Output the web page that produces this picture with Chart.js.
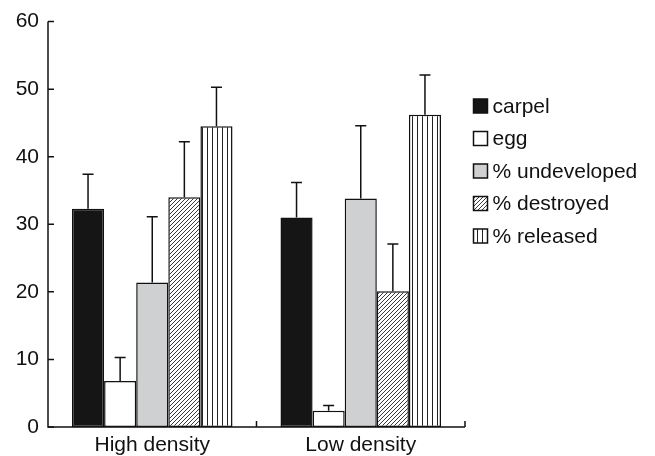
<!DOCTYPE html>
<html>
<head>
<meta charset="utf-8">
<script src="https://cdn.jsdelivr.net/npm/chart.js@4.4.0/dist/chart.umd.min.js"></script>
<style>
  html, body { margin: 0; padding: 0; background: #fff; }
  #wrap { width: 655px; height: 456px; }
</style>
</head>
<body>
<div id="wrap"><canvas id="chart" width="655" height="456"></canvas></div>
<script>
// ---- data ----
const categories = ["High density", "Low density"];
const seriesNames = ["carpel", "egg", "% undeveloped", "% destroyed", "% released"];
const carpel      = [32.3, 31.0];
const egg         = [6.8, 2.4];
const undeveloped = [21.4, 33.8];
const destroyed   = [34.0, 20.1];
const released    = [44.5, 46.2];
// upper error bar lengths
const carpelErr      = [5.1, 5.2];
const eggErr         = [3.5, 0.8];
const undevelopedErr = [9.7, 10.8];
const destroyedErr   = [8.2, 7.0];
const releasedErr    = [5.8, 5.9];
const yTicks = [0, 10, 20, 30, 40, 50, 60];

const FONT = '"Liberation Sans", Arial, sans-serif';

// ---- fill patterns ----
function diagPattern() {
  const c = document.createElement("canvas");
  c.width = 4; c.height = 4;
  const g = c.getContext("2d");
  g.fillStyle = "#fff"; g.fillRect(0, 0, 4, 4);
  g.strokeStyle = "#222"; g.lineWidth = 0.9;
  g.beginPath();
  g.moveTo(0, 4); g.lineTo(4, 0);
  g.moveTo(-1, 1); g.lineTo(1, -1);
  g.moveTo(3, 5); g.lineTo(5, 3);
  g.stroke();
  return g.createPattern(c, "repeat");
}
function vertPattern() {
  const c = document.createElement("canvas");
  c.width = 5; c.height = 4;
  const g = c.getContext("2d");
  g.fillStyle = "#fff"; g.fillRect(0, 0, 5, 4);
  g.fillStyle = "#222"; g.fillRect(2, 0, 1, 4);
  return g.createPattern(c, "repeat");
}

const fills = ["#151515", "#ffffff", "#cfd0d2", diagPattern(), vertPattern()];
const values = [carpel, egg, undeveloped, destroyed, released];
const errs = [carpelErr, eggErr, undevelopedErr, destroyedErr, releasedErr];

const datasets = seriesNames.map((name, i) => ({
  label: name,
  data: values[i],
  err: errs[i],
  backgroundColor: fills[i],
  borderColor: "#111",
  borderWidth: 1.5,
  borderSkipped: false,
  categoryPercentage: 0.77,
  barPercentage: 1.0
}));

// error bars, axis ticks and legend
const extras = {
  id: "extras",
  beforeDatasetsDraw(chart) {
    const ctx = chart.ctx, a = chart.chartArea;
    const ys = chart.scales.y, xs = chart.scales.x;
    ctx.save();
    ctx.strokeStyle = "#111";
    ctx.lineWidth = 1.5;
    // axes
    ctx.beginPath();
    ctx.moveTo(a.left, ys.getPixelForValue(60));
    ctx.lineTo(a.left, a.bottom);
    ctx.lineTo(a.right, a.bottom);
    ctx.stroke();
    // y ticks (inward)
    ctx.beginPath();
    yTicks.forEach(v => {
      const y = ys.getPixelForValue(v);
      ctx.moveTo(a.left, y); ctx.lineTo(a.left + 6, y);
    });
    // x ticks at category boundaries (inward)
    for (let i = 1; i <= categories.length; i++) {
      const x = xs.getPixelForValue(i - 0.5);
      ctx.moveTo(x, a.bottom); ctx.lineTo(x, a.bottom - 6);
    }
    ctx.stroke();
    ctx.restore();
  },
  afterDatasetsDraw(chart) {
    const ctx = chart.ctx, ys = chart.scales.y;
    ctx.save();
    ctx.strokeStyle = "#111";
    ctx.lineWidth = 1.5;
    chart.data.datasets.forEach((ds, i) => {
      chart.getDatasetMeta(i).data.forEach((bar, j) => {
        const top = ys.getPixelForValue(ds.data[j] + ds.err[j]);
        ctx.beginPath();
        ctx.moveTo(bar.x, bar.y);
        ctx.lineTo(bar.x, top);
        ctx.moveTo(bar.x - 5.5, top);
        ctx.lineTo(bar.x + 5.5, top);
        ctx.stroke();
      });
    });
    // legend
    const lx = 473.5, ly = 106, gap = 32.5, box = 14;
    ctx.font = "21px " + FONT;
    ctx.textBaseline = "middle";
    chart.data.datasets.forEach((ds, i) => {
      const cy = ly + i * gap;
      ctx.fillStyle = ds.backgroundColor;
      ctx.fillRect(lx, cy - box / 2, box, box);
      ctx.strokeRect(lx, cy - box / 2, box, box);
      ctx.fillStyle = "#111";
      ctx.fillText(ds.label, lx + box + 5, cy + 1);
    });
    ctx.restore();
  }
};

new Chart(document.getElementById("chart"), {
  type: "bar",
  data: { labels: categories, datasets },
  options: {
    responsive: false,
    animation: false,
    layout: { padding: { top: 19, right: 190, bottom: 0, left: 0 } },
    plugins: { legend: { display: false }, tooltip: { enabled: false } },
    scales: {
      x: {
        grid: { display: false, drawTicks: false },
        border: { display: false },
        ticks: { color: "#111", padding: 6, font: { family: FONT, size: 21 } },
        afterFit(s) { s.height = 29; }
      },
      y: {
        min: 0, max: 60,
        grid: { display: false, drawTicks: false },
        border: { display: false },
        ticks: { stepSize: 10, color: "#111", padding: 9, font: { family: FONT, size: 21 } },
        afterFit(s) { s.width = 48; }
      }
    }
  },
  plugins: [extras]
});
</script>
</body>
</html>
